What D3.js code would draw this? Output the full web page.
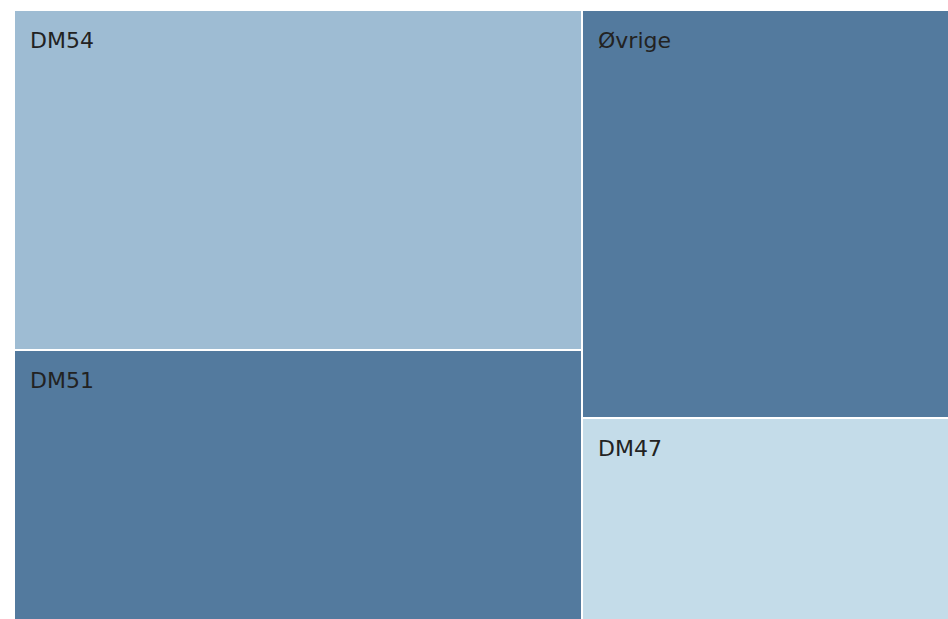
<!DOCTYPE html>
<html>
<head>
<meta charset="utf-8">
<script src="https://cdn.jsdelivr.net/npm/d3@7"></script>
<style>
  body { margin: 0; background: #fff; }
  svg { display: block; }
</style>
</head>
<body>
<div id="chart"></div>
<script>
// shares (area fractions, %)
const labels = ["DM54", "DM51", "Øvrige", "DM47"];
const values = [33.8, 27.0, 26.2, 13.0];
const colors = ["#9ebcd3", "#537a9e", "#537a9e", "#c4dce9"];

const width = 948, height = 619;
const pad = { t: 11, s: 15, e: 0, b: -1 };

const svg = d3.select("#chart").append("svg")
  .attr("width", width)
  .attr("height", height);

const root = d3.hierarchy({ children: labels.map((l, i) => ({ name: l, value: values[i], color: colors[i] })) })
  .sum((d) => d.value || 0)
  .sort((a, b) => b.value - a.value);

d3.treemap()
  .tile(d3.treemapBinary)
  .size([width - pad.s - pad.e, height - pad.t - pad.b])
  .paddingInner(2)
  .round(true)(root);

const cell = svg.append("g")
  .attr("transform", `translate(${pad.s}, ${pad.t})`)
  .selectAll("g")
  .data(root.leaves())
  .enter()
  .append("g")
  .attr("transform", (d) => `translate(${d.x0}, ${d.y0})`);

cell.append("rect")
  .attr("width", (d) => d.x1 - d.x0)
  .attr("height", (d) => d.y1 - d.y0)
  .attr("fill", (d) => d.data.color);

cell.append("text")
  .attr("x", 15)
  .attr("y", 37)
  .attr("font-family", "DejaVu Sans, Verdana, sans-serif")
  .attr("font-size", 22)
  .attr("fill", "#222")
  .text((d) => d.data.name);
</script>
</body>
</html>
